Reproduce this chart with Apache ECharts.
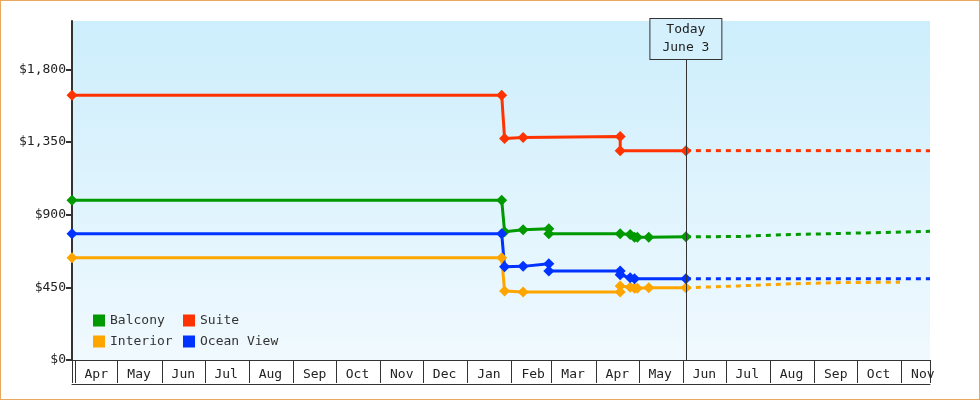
<!DOCTYPE html>
<html><head><meta charset="utf-8">
<script src="https://cdn.jsdelivr.net/npm/echarts@6/dist/echarts.min.js"></script>
<style>html,body{margin:0;padding:0;background:#fff}#c{width:978px;height:398px;border:1px solid #e8a860}</style>
</head><body><div id="c"></div>
<script>
const seriesNames = ['Balcony','Suite','Interior','Ocean View'];
const colors = ['#009900','#ff3300','#ffa500','#0033ff'];
const balcony = [['2024-03-30',990],['2025-01-25',990],['2025-01-27',795],['2025-02-09',807],['2025-02-27',813],['2025-02-27',782],['2025-04-18',782],['2025-04-25',778],['2025-04-28',760],['2025-04-30',760],['2025-05-08',760],['2025-06-03',763]];
const suite = [['2024-03-30',1640],['2025-01-25',1640],['2025-01-27',1372],['2025-02-09',1378],['2025-04-18',1384],['2025-04-18',1297],['2025-06-03',1297]];
const interior = [['2024-03-30',633],['2025-01-25',633],['2025-01-27',428],['2025-02-09',422],['2025-04-18',422],['2025-04-18',459],['2025-04-25',450],['2025-04-28',445],['2025-04-30',445],['2025-05-08',447],['2025-06-03',447]];
const oceanView = [['2024-03-30',782],['2025-01-25',782],['2025-01-27',577],['2025-02-09',580],['2025-02-27',596],['2025-02-27',552],['2025-04-18',552],['2025-04-18',528],['2025-04-25',509],['2025-04-28',503],['2025-06-03',503]];
const balconyFuture = [['2025-06-03',763],['2025-07-10',765],['2025-08-10',776],['2025-10-20',790],['2025-11-21',797]];
const suiteFuture = [['2025-06-03',1297],['2025-11-21',1297]];
const interiorFuture = [['2025-06-03',447],['2025-07-10',459],['2025-08-15',472],['2025-09-20',480],['2025-10-31',482]];
const oceanFuture = [['2025-06-03',503],['2025-11-21',503]];
const yTicks = [0,450,900,1350,1800];
const todayDate = '2025-06-03';
const todayLabel = 'Today\nJune 3';

const DAY = 86400000;
const xMin = +new Date('2024-03-30'), xMax = +new Date('2025-11-21');
const font = 'DejaVu Sans Mono';
const chart = echarts.init(document.getElementById('c'));
function solid(name, data, i, extra){
  return Object.assign({type:'line', name, data, color:colors[i], symbol:'diamond', symbolSize:11,
    lineStyle:{width:3}, showSymbol:true, animation:false, z:3}, extra||{});
}
function dashed(name, data, i){
  return {type:'line', name, data, color:colors[i], symbol:'none', lineStyle:{width:3,type:[5,5]}, animation:false, z:2};
}
const legendBase = {orient:'vertical', top:313, itemWidth:12, itemHeight:12, itemGap:8,
  icon:'rect', textStyle:{fontFamily:font,fontSize:13,color:'#333'}, padding:0, selectedMode:false};
chart.setOption({
  textStyle:{fontFamily:font},
  grid:{left:71,right:49,top:20,bottom:39},
  legend:[
    Object.assign({data:[seriesNames[0],seriesNames[2]], left:92}, legendBase),
    Object.assign({data:[seriesNames[1],seriesNames[3]], left:182}, legendBase)
  ],
  xAxis:[
    {type:'time', min:xMin, max:xMax, minInterval:28*DAY, maxInterval:31*DAY,
     axisLine:{show:true,lineStyle:{color:'#333',width:1}},
     axisTick:{show:true,length:23,lineStyle:{color:'#333'}},
     axisLabel:{show:false}, splitLine:{show:false}},
    {type:'time', min:xMin-15*DAY, max:xMax-15*DAY, minInterval:28*DAY, maxInterval:31*DAY,
     position:'bottom', axisLine:{show:false}, axisTick:{show:false}, splitLine:{show:false},
     axisLabel:{margin:8, color:'#222', fontFamily:font, fontSize:13,
       formatter:v=>['Jan','Feb','Mar','Apr','May','Jun','Jul','Aug','Sep','Oct','Nov','Dec'][new Date(v).getMonth()]}},
    {type:'time', min:xMin, max:xMax, position:'bottom', offset:24,
     axisLine:{show:true,lineStyle:{color:'#333'}}, axisTick:{show:false}, axisLabel:{show:false}, splitLine:{show:false}}
  ],
  yAxis:{type:'value', min:0, max:2100, interval:450,
    axisLine:{show:true,lineStyle:{color:'#333',width:2}},
    axisTick:{show:true,length:6,lineStyle:{color:'#333',width:2}},
    splitLine:{show:false},
    axisLabel:{showMaxLabel:false, color:'#222', fontFamily:font, fontSize:13, margin:6,
      formatter:v=>yTicks.includes(v)?'$'+v.toLocaleString('en-US'):''}},
  series:[
    solid(seriesNames[0], balcony, 0, {
      markArea:{silent:true, itemStyle:{color:new echarts.graphic.LinearGradient(0,0,0,1,[{offset:0,color:'#cdeefc'},{offset:1,color:'#f0f9fe'}])},
        data:[[{xAxis:xMin,yAxis:2100},{xAxis:xMax,yAxis:0}]], z:-1},
      markLine:{silent:true, symbol:'none', lineStyle:{color:'#333',width:1,type:'solid'},
        label:{show:true, position:'end', distance:0, formatter:todayLabel, color:'#222', fontFamily:font, fontSize:13,
          backgroundColor:'#d4f0fc', borderColor:'#333', borderWidth:1, padding:[2,12,2,12], lineHeight:18},
        data:[[{coord:[todayDate,0]},{coord:[todayDate,1865]}]]}
    }),
    solid(seriesNames[1], suite, 1),
    solid(seriesNames[2], interior, 2),
    solid(seriesNames[3], oceanView, 3),
    dashed(seriesNames[0], balconyFuture, 0),
    dashed(seriesNames[1], suiteFuture, 1),
    dashed(seriesNames[2], interiorFuture, 2),
    dashed(seriesNames[3], oceanFuture, 3)
  ]
});
</script></body></html>
